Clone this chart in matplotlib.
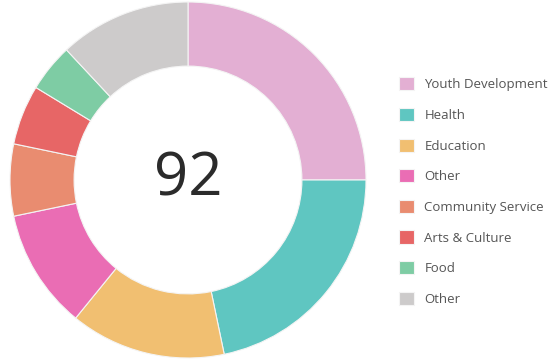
import matplotlib.pyplot as plt

labels = ["Youth Development", "Health", "Education", "Other",
          "Community Service", "Arts & Culture", "Food", "Other"]
values = [23, 20, 13, 10, 6, 5, 4, 11]
colors = ["#E3AFD3", "#5FC6C1", "#F1BF71", "#EA6DB4",
          "#E98C70", "#E76666", "#7ECCA4", "#CDCBCB"]
total = sum(values)

plt.rcParams["font.family"] = ["Open Sans", "DejaVu Sans"]

fig = plt.figure(figsize=(5.5, 3.64), dpi=100)
ax = fig.add_axes([10 / 550, 6 / 364, 356 / 550, 356 / 364])

wedges, _ = ax.pie(values, colors=colors, startangle=90, counterclock=False,
                   radius=1.0,
                   wedgeprops=dict(width=0.36, edgecolor="#f4f4f4", linewidth=0.8))
ax.set_aspect("equal")
ax.set_xlim(-1, 1)
ax.set_ylim(-1, 1)

ax.text(0, 0, str(total), ha="center", va="center", fontsize=43, color="#2b2b2b")

fig.legend(wedges, labels, loc="upper left", bbox_to_anchor=(394 / 550, 1 - 72 / 364),
           frameon=False, fontsize=9.5, handlelength=1.15, handleheight=1.15,
           handletextpad=0.75, labelspacing=1.26, borderaxespad=0,
           labelcolor="#555555")

plt.savefig("out.png", dpi=100)
